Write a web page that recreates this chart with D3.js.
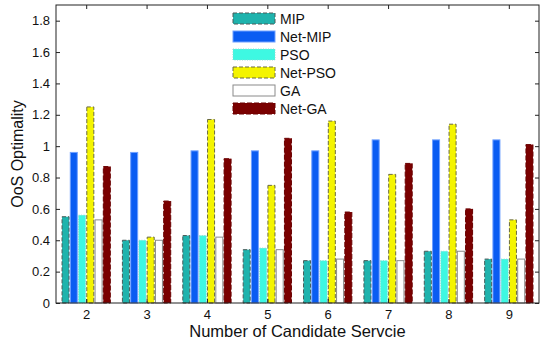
<!DOCTYPE html>
<html>
<head>
<meta charset="utf-8">
<script src="https://cdn.jsdelivr.net/npm/d3@7"></script>
<style>
  body { margin: 0; background: #fff; }
  text { font-family: "Liberation Sans", Arial, sans-serif; }
</style>
</head>
<body>
<script>
var candidates = [2, 3, 4, 5, 6, 7, 8, 9]
var seriesNames = ["MIP", "Net-MIP", "PSO", "Net-PSO", "GA", "Net-GA"]
var mip    = [0.55, 0.40, 0.43, 0.34, 0.27, 0.27, 0.33, 0.28]
var netMip = [0.96, 0.96, 0.97, 0.97, 0.97, 1.04, 1.04, 1.04]
var pso    = [0.56, 0.40, 0.43, 0.35, 0.27, 0.27, 0.33, 0.28]
var netPso = [1.25, 0.42, 1.17, 0.75, 1.16, 0.82, 1.14, 0.53]
var ga     = [0.53, 0.40, 0.42, 0.34, 0.28, 0.27, 0.33, 0.28]
var netGa  = [0.87, 0.65, 0.92, 1.05, 0.58, 0.89, 0.60, 1.01]
var yTicks = [0, 0.2, 0.4, 0.6, 0.8, 1, 1.2, 1.4, 1.6, 1.8]

var allValues = [mip, netMip, pso, netPso, ga, netGa]

// fill, edge, dash per series
var styles = [
    {fill: "#1fb3ad", stroke: "#4a5a58", dash: "4,2"},
    {fill: "#0a5cf2", stroke: "#6fa0ff", dash: null},
    {fill: "#3ef8e2", stroke: "#8fd8d0", dash: "1,1.5"},
    {fill: "#f4f400", stroke: "#6a6a40", dash: "4,2"},
    {fill: "#ffffff", stroke: "#8a8a8a", dash: null},
    {fill: "#7a0000", stroke: "#6a0000", dash: "5,2"}
]

var width = 542, height = 346
var margin = {top: 5, right: 3, bottom: 43, left: 56}
var w = width - margin.left - margin.right,
    h = height - margin.top - margin.bottom

var svg = d3.select("body")
    .append("svg")
    .attr("width", width)
    .attr("height", height)

var g = svg.append("g")
    .attr("transform", "translate(" + margin.left + "," + margin.top + ")")

var x = d3.scaleLinear().domain([1.5, 9.5]).range([0, w])
var y = d3.scaleLinear().domain([0, 1.9]).range([h, 0])

var groupW = (x(3) - x(2)) * 0.8
var xs = d3.scaleBand()
    .domain(seriesNames)
    .range([-groupW / 2, groupW / 2])
    .paddingInner(0.15)

// bars
allValues.forEach(function (vals, si) {
    var st = styles[si]
    g.selectAll("rect.s" + si)
        .data(vals)
        .enter()
        .append("rect")
        .attr("class", "s" + si)
        .attr("x", function (d, i) { return x(candidates[i]) + xs(seriesNames[si]) })
        .attr("y", function (d) { return y(d) })
        .attr("width", xs.bandwidth())
        .attr("height", function (d) { return y(0) - y(d) })
        .style("fill", st.fill)
        .style("stroke", st.stroke)
        .style("stroke-width", 1)
        .style("stroke-dasharray", st.dash)
})

// box
g.append("rect")
    .attr("width", w)
    .attr("height", h)
    .style("fill", "none")
    .style("stroke", "#222")
    .style("stroke-width", 1)

var tk = 4
// inward ticks, all sides
g.append("g")
    .attr("transform", "translate(0," + h + ")")
    .call(d3.axisBottom(x).tickValues(candidates).tickSizeInner(-tk).tickSizeOuter(0).tickPadding(7))
g.append("g")
    .call(d3.axisTop(x).tickValues(candidates).tickSizeInner(-tk).tickSizeOuter(0).tickFormat(""))
g.append("g")
    .call(d3.axisLeft(y).tickValues(yTicks).tickSizeInner(-tk).tickSizeOuter(0).tickPadding(6)
        .tickFormat(function (d) { return String(+d.toFixed(1)) }))
g.append("g")
    .attr("transform", "translate(" + w + ",0)")
    .call(d3.axisRight(y).tickValues(yTicks).tickSizeInner(-tk).tickSizeOuter(0).tickFormat(""))

g.selectAll(".domain").remove()
g.selectAll(".tick line").style("stroke", "#222")
g.selectAll(".tick text")
    .style("font-size", "13px")
    .style("fill", "#111")

// axis labels
svg.append("text")
    .attr("x", margin.left + w / 2)
    .attr("y", 337)
    .attr("text-anchor", "middle")
    .style("font-size", "16.5px")
    .style("fill", "#111")
    .text("Number of Candidate Servcie")

svg.append("text")
    .attr("transform", "translate(23," + (margin.top + h / 2) + ") rotate(-90)")
    .attr("text-anchor", "middle")
    .style("font-size", "16px")
    .style("fill", "#111")
    .text("OoS Optimality")

// legend
var legend = svg.append("g")
    .attr("transform", "translate(233,13)")

var items = legend.selectAll("g.item")
    .data(seriesNames)
    .enter()
    .append("g")
    .attr("class", "item")
    .attr("transform", function (d, i) { return "translate(0," + (i * 18) + ")" })

items.append("rect")
    .attr("width", 42)
    .attr("height", 11)
    .style("fill", function (d, i) { return styles[i].fill })
    .style("stroke", function (d, i) { return styles[i].stroke })
    .style("stroke-dasharray", function (d, i) { return styles[i].dash })

items.append("text")
    .attr("x", 47)
    .attr("y", 11)
    .style("font-size", "14px")
    .style("fill", "#111")
    .text(function (d) { return d })
</script>
</body>
</html>
